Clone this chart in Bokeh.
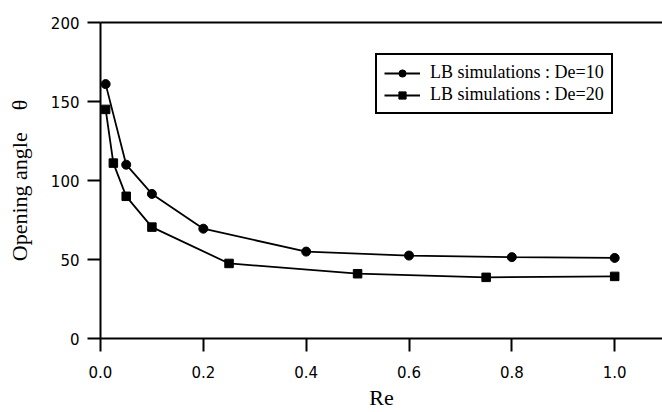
from bokeh.plotting import figure
from bokeh.models import Range1d, FixedTicker, NumeralTickFormatter, LinearAxis, Legend, LegendItem
from bokeh.embed import file_html
from bokeh.resources import INLINE

# Data
re_de10 = [0.01, 0.05, 0.1, 0.2, 0.4, 0.6, 0.8, 1.0]
theta_de10 = [161, 110, 91.5, 69.5, 55, 52.5, 51.5, 51]
re_de20 = [0.01, 0.025, 0.05, 0.1, 0.25, 0.5, 0.75, 1.0]
theta_de20 = [145, 111, 90, 70.5, 47.5, 41, 38.7, 39.3]
x_ticks = [0.0, 0.2, 0.4, 0.6, 0.8, 1.0]
y_ticks = [0, 50, 100, 150, 200]
label_de10 = "LB simulations : De=10"
label_de20 = "LB simulations : De=20"

W, H = 662, 412
p = figure(width=W, height=H, output_backend="svg", toolbar_location=None,
           x_range=Range1d(0, 1.093), y_range=Range1d(0, 200),
           min_border_left=100, min_border_right=0, min_border_top=22, min_border_bottom=71)
p.grid.visible = False
p.outline_line_color = None
p.background_fill_color = "white"
p.border_fill_color = "white"

for ax in (p.xaxis[0], p.yaxis[0]):
    ax.axis_line_width = 2
    ax.axis_line_color = "black"
    ax.major_tick_line_width = 2
    ax.major_tick_line_color = "black"
    ax.major_tick_out = 13
    ax.major_tick_in = 0
    ax.minor_tick_line_color = None
    ax.major_label_text_font = "DejaVu Sans"
    ax.major_label_text_font_size = "15px"
    ax.major_label_text_color = "black"
    ax.axis_label_text_font = "Liberation Serif"
    ax.axis_label_text_font_size = "22px"
    ax.axis_label_text_font_style = "normal"
    ax.axis_label_text_color = "black"

p.xaxis.ticker = FixedTicker(ticks=x_ticks)
p.xaxis.formatter = NumeralTickFormatter(format="0.0")
p.xaxis.axis_label = "Re"
p.xaxis.major_label_standoff = 14
p.xaxis.axis_label_standoff = 4

p.yaxis.ticker = FixedTicker(ticks=y_ticks)
p.yaxis.axis_label = "Opening angle\u00a0\u00a0\u00a0\u00a0\u03b8"
p.yaxis.major_label_standoff = 8
p.yaxis.axis_label_standoff = 16

top = LinearAxis(ticker=FixedTicker(ticks=[]), axis_line_width=2, axis_line_color="black",
                 major_tick_line_color=None, minor_tick_line_color=None,
                 major_label_text_font_size="0px", major_label_standoff=0)
p.add_layout(top, "above")

l1 = p.line(re_de10, theta_de10, line_color="black", line_width=1.8)
s1 = p.scatter(re_de10, theta_de10, marker="circle", size=9, fill_color="black", line_color="black")
l2 = p.line(re_de20, theta_de20, line_color="black", line_width=1.8)
s2 = p.scatter(re_de20, theta_de20, marker="square", size=8.5, fill_color="black", line_color="black")

legend = Legend(items=[LegendItem(label=label_de10, renderers=[l1, s1]),
                       LegendItem(label=label_de20, renderers=[l2, s2])],
                location=(275, 224), glyph_width=36, glyph_height=18, label_height=18,
                label_standoff=10, spacing=1, padding=7, margin=0,
                label_text_font="Liberation Serif", label_text_font_size="18px",
                label_text_color="black", border_line_color="black", border_line_width=2,
                border_line_alpha=1, background_fill_color="white", background_fill_alpha=1)
p.add_layout(legend, "center")

open("out.html", "w").write(file_html(p, INLINE))
